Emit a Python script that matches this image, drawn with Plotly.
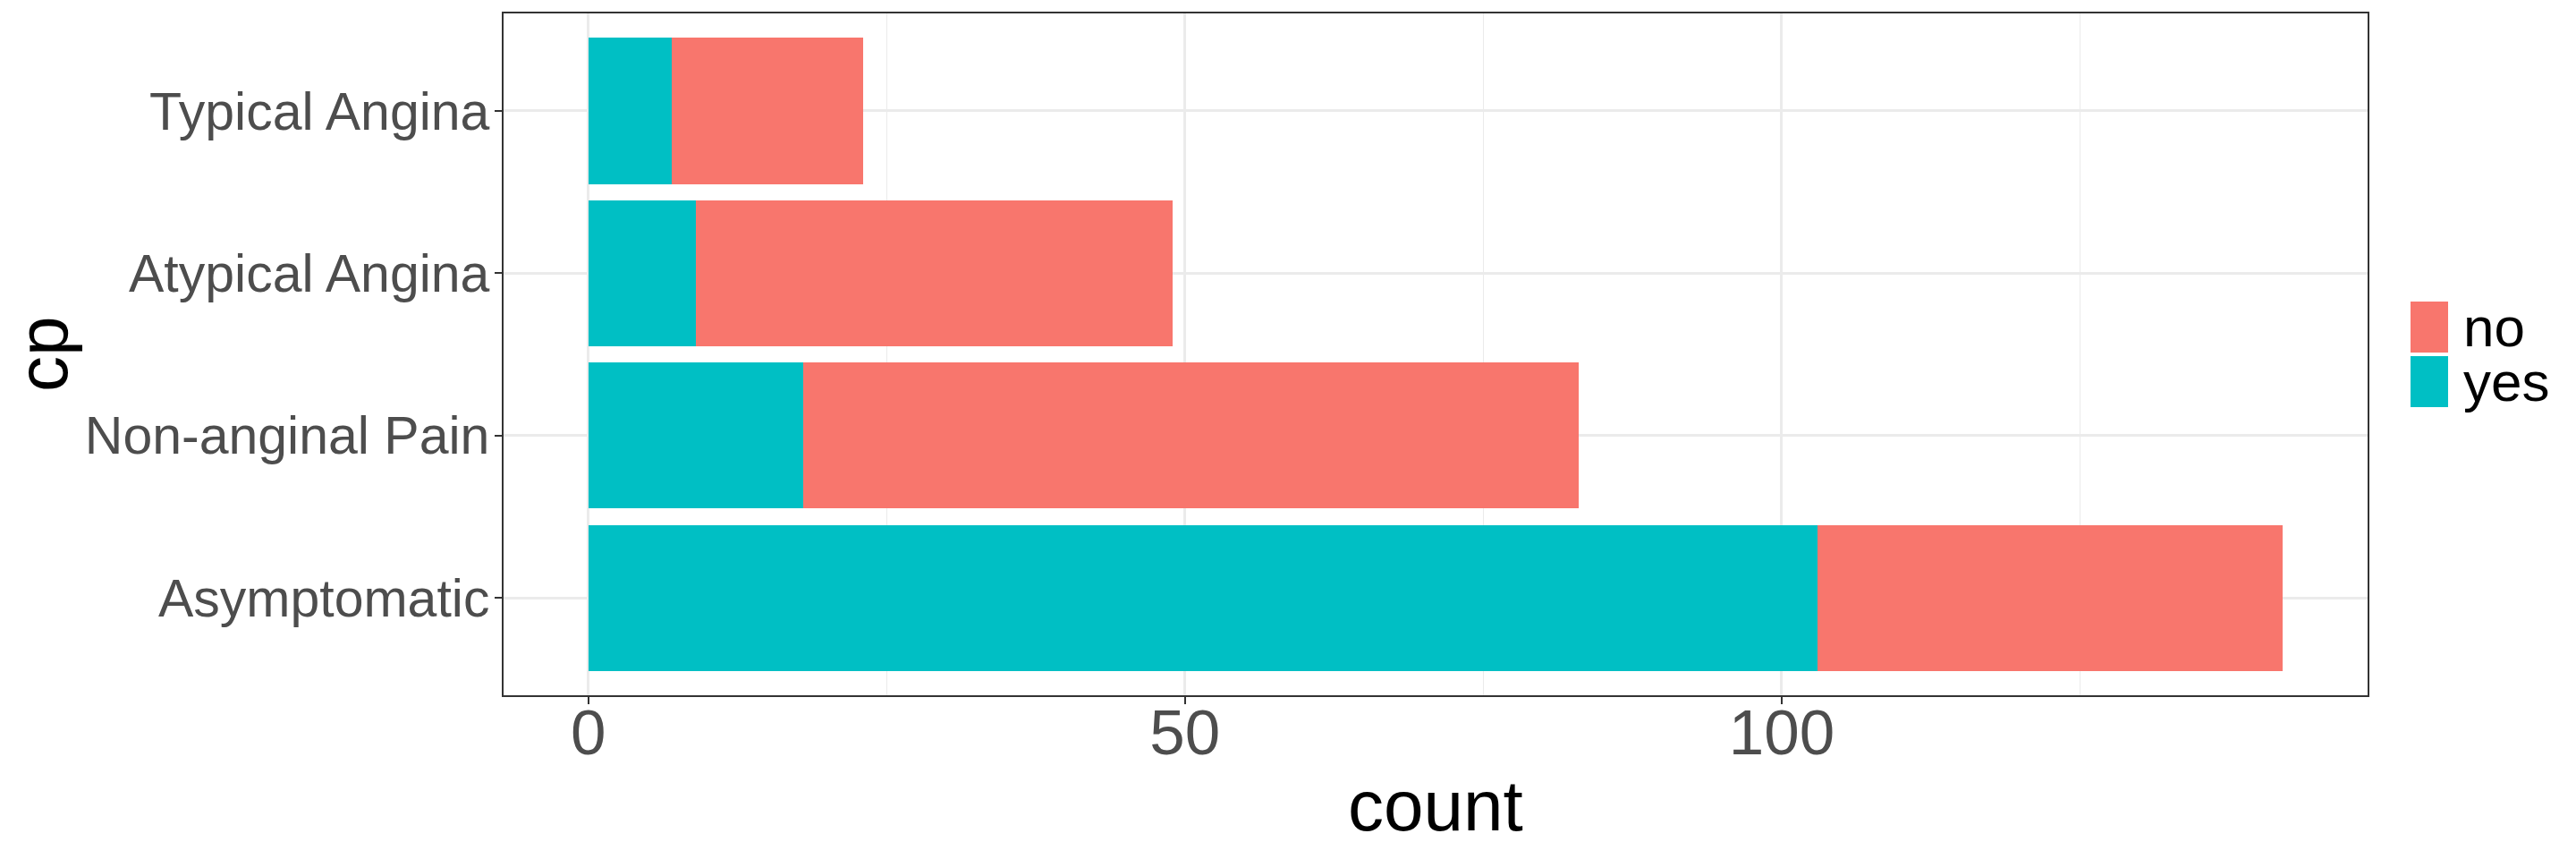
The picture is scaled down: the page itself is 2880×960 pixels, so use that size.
import plotly.graph_objects as go

# chest pain type, top to bottom as drawn
cp_types = ['Typical Angina', 'Atypical Angina', 'Non-anginal Pain', 'Asymptomatic']
yes_counts = [7, 9, 18, 103]
no_counts = [16, 40, 65, 39]

legend_names = ['no', 'yes']
legend_colors = ['#F8766D', '#00BFC4']

FONT = 'Liberation Sans'
# the html page puts the figure 8px in from the top-left corner, so the
# figure is made 8px smaller and every position is taken 8px back
OFF = 8
W, H = 2880 - OFF, 960 - OFF
L, T = 563 - OFF, 15 - OFF
R, B = 2880 - 2647, 960 - 777

fig = go.Figure()
fig.add_trace(go.Bar(
  y = cp_types, x = yes_counts, orientation = 'h', name = 'yes',
  marker = dict(color = legend_colors[1], line = dict(width = 0)),
  showlegend = False,
))
fig.add_trace(go.Bar(
  y = cp_types, x = no_counts, orientation = 'h', name = 'no',
  marker = dict(color = legend_colors[0], line = dict(width = 0)),
  showlegend = False,
))

total_max = max(a + b for a, b in zip(yes_counts, no_counts))
pad = total_max * 0.05

fig.update_layout(
  width = W, height = H,
  barmode = 'stack', bargap = 0.1,
  plot_bgcolor = 'white', paper_bgcolor = 'white',
  margin = dict(l = L, r = R, t = T, b = B, pad = 0, autoexpand = False),
  font = dict(family = FONT, color = 'black'),
  xaxis = dict(
    range = [-pad, total_max + pad], automargin = False,
    tickvals = [0, 50, 100],
    ticks = 'outside', ticklen = 8, tickwidth = 2, tickcolor = '#333333',
    tickfont = dict(size = 71, color = '#4D4D4D'), ticklabelstandoff = -29,
    showgrid = True, gridcolor = '#EBEBEB', gridwidth = 2.5,
    minor = dict(tickvals = [25, 75, 125], showgrid = True, gridcolor = '#EBEBEB', gridwidth = 1.3, ticks = ''),
    zeroline = False,
    showline = True, mirror = True, linecolor = '#333333', linewidth = 1.5,
  ),
  yaxis = dict(
    categoryorder = 'array', categoryarray = cp_types[::-1], automargin = False,
    range = [-0.6, len(cp_types) - 0.4],
    ticks = 'outside', ticklen = 8, tickwidth = 2, tickcolor = '#333333',
    tickfont = dict(size = 59, color = '#4D4D4D'), ticklabelstandoff = -6,
    showgrid = True, gridcolor = '#EBEBEB', gridwidth = 2.5,
    zeroline = False,
    showline = True, mirror = True, linecolor = '#333333', linewidth = 1.5,
  ),
)

pw, ph = W - L - R, H - T - B
def px_x(p):
  return (p - OFF - L) / pw
def px_y(p):
  return (H - B - (p - OFF)) / ph

# axis titles
fig.add_annotation(
  xref = 'paper', yref = 'paper', x = 0.5, y = px_y(900),
  xanchor = 'center', yanchor = 'middle', showarrow = False,
  text = 'count', font = dict(size = 80, color = 'black', family = FONT),
)
fig.add_annotation(
  xref = 'paper', yref = 'paper', x = px_x(47), y = 0.5,
  xanchor = 'center', yanchor = 'middle', showarrow = False, textangle = -90,
  text = 'cp', font = dict(size = 80, color = 'black', family = FONT),
)

# legend drawn by hand so the keys can be as large as in the original
key_top = 337
key_h, key_gap = 57, 4
for i, (name, col) in enumerate(zip(legend_names, legend_colors)):
  top = key_top + i * (key_h + key_gap)
  fig.add_shape(
    type = 'rect', xref = 'paper', yref = 'paper',
    x0 = px_x(2695), x1 = px_x(2737), y0 = px_y(top + key_h), y1 = px_y(top),
    fillcolor = col, line = dict(width = 0),
  )
  fig.add_annotation(
    xref = 'paper', yref = 'paper', x = px_x(2752), y = px_y(top + key_h / 2),
    xanchor = 'left', yanchor = 'middle', showarrow = False,
    text = name, font = dict(size = 62, color = 'black', family = FONT),
  )

fig.write_html('out.html')
